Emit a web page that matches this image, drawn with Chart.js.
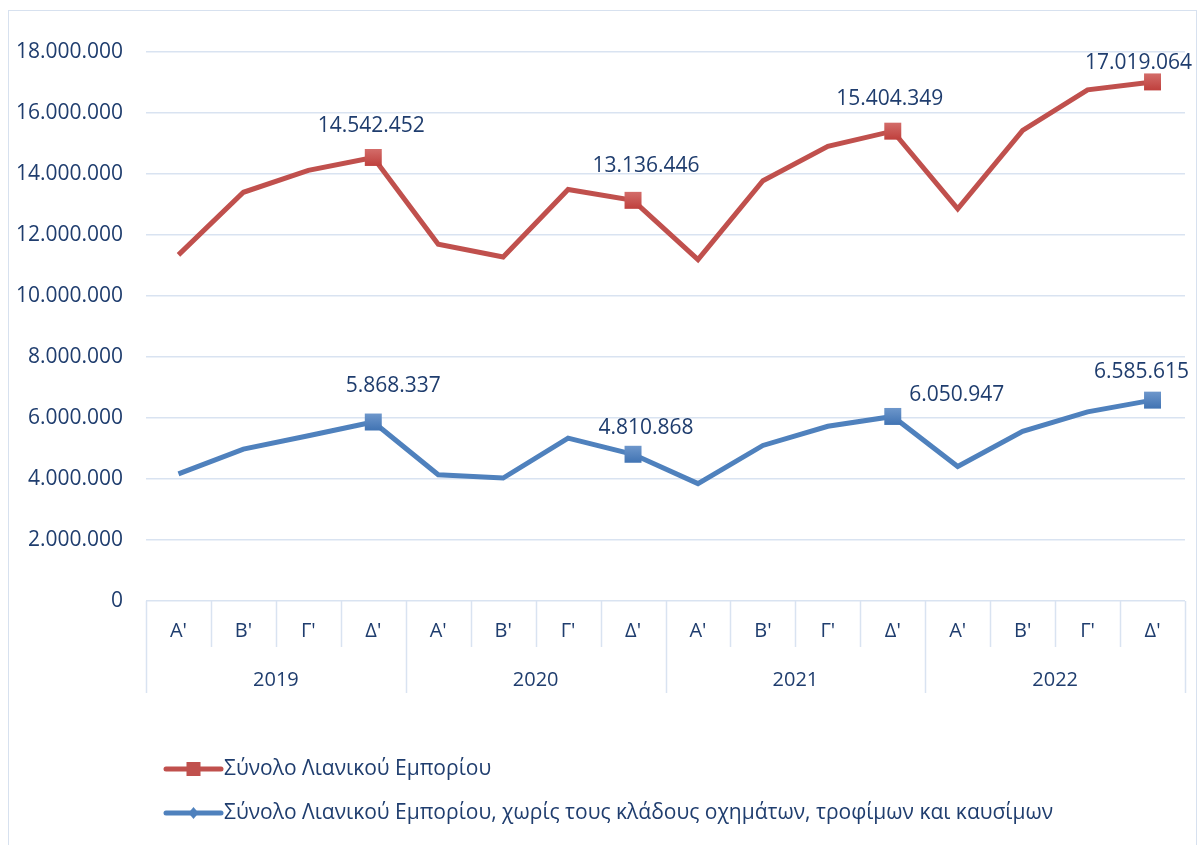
<!DOCTYPE html>
<html>
<head>
<meta charset="utf-8">
<script src="https://cdn.jsdelivr.net/npm/chart.js@4"></script>
<style>
  html, body { margin: 0; padding: 0; background: #ffffff; }
  #wrap { position: relative; width: 1200px; height: 845px; overflow: hidden; }
  #frame { position: absolute; left: 8px; top: 10px; width: 1189px; height: 850px; border: 1.5px solid #D7E1EF; box-sizing: border-box; }
  canvas { position: absolute; left: 0; top: 0; }
</style>
</head>
<body>
<div id="wrap">
  <div id="frame"></div>
  <canvas id="c" width="1200" height="845"></canvas>
</div>
<script>
const quarters = ["Α'", "Β'", "Γ'", "Δ'", "Α'", "Β'", "Γ'", "Δ'", "Α'", "Β'", "Γ'", "Δ'", "Α'", "Β'", "Γ'", "Δ'"];
const years = ["2019", "2020", "2021", "2022"];
const seriesNames = [
  "Σύνολο Λιανικού Εμπορίου",
  "Σύνολο Λιανικού Εμπορίου, χωρίς τους κλάδους οχημάτων, τροφίμων και καυσίμων"
];
const totalRetail = [11350000, 13400000, 14120000, 14542452, 11700000, 11280000, 13490000, 13136446, 11190000, 13780000, 14910000, 15404349, 12860000, 15430000, 16760000, 17019064];
const retailExcl = [4170000, 4980000, 5420000, 5868337, 4140000, 4030000, 5340000, 4810868, 3850000, 5100000, 5730000, 6050947, 4410000, 5560000, 6200000, 6585615];
const yTicks = [0, 2000000, 4000000, 6000000, 8000000, 10000000, 12000000, 14000000, 16000000, 18000000];

// style: label nudges (px) for the Δ' value labels
const labelNudge = [
  [[-2, -31], [13, -34], [-3, -32], [-14, -19]],
  [[20, -36], [13, -26], [64, -21], [-11, -28]]
];

const TEXT = '#1F3D6E';
const GRID = '#D9E3F1';
const RED = '#C0504D';
const BLUE = '#4F81BD';
const FONT = "'Open Sans', 'Noto Sans', sans-serif";

function fmt(v) {
  return String(Math.round(v)).replace(/\B(?=(\d{3})+(?!\d))/g, '.');
}
const markerRadius = ctx => ((ctx.dataIndex % 4) === 3 ? 12 : 0);

function gradFill(chart, color, light) {
  return (ctx) => {
    const el = ctx.element;
    if (!el || el.y === undefined) return color;
    const g = chart.ctx.createLinearGradient(0, el.y - 9, 0, el.y + 9);
    g.addColorStop(0, light);
    g.addColorStop(1, color);
    return g;
  };
}

const axisPlugin = {
  id: 'axisPlugin',
  afterDraw(chart) {
    const ctx = chart.ctx;
    const xs = chart.scales.x;
    const top = chart.chartArea.bottom;
    const n = quarters.length;
    const step = xs.getPixelForTick(1) - xs.getPixelForTick(0);
    ctx.save();
    ctx.strokeStyle = GRID;
    ctx.lineWidth = 1.5;
    for (let i = 0; i <= n; i++) {
      const x = Math.round(xs.getPixelForTick(Math.min(i, n - 1)) + (i === n ? step / 2 : -step / 2)) + 0.5;
      const len = (i % 4 === 0) ? 92 : 46;
      ctx.beginPath();
      ctx.moveTo(x, top);
      ctx.lineTo(x, top + len);
      ctx.stroke();
    }
    ctx.fillStyle = TEXT;
    ctx.font = "20px " + FONT;
    ctx.textAlign = 'center';
    ctx.textBaseline = 'middle';
    years.forEach((y, k) => {
      const x = (xs.getPixelForTick(k * 4 + 1) + xs.getPixelForTick(k * 4 + 2)) / 2;
      ctx.fillText(y, x, top + 79);
    });

    // value labels on the Δ' points
    ctx.font = "21px " + FONT;
    chart.data.datasets.forEach((ds, di) => {
      const meta = chart.getDatasetMeta(di);
      let q = 0;
      ds.data.forEach((v, i) => {
        if (i % 4 !== 3) return;
        const p = meta.data[i];
        const nd = labelNudge[di][q++];
        ctx.fillText(fmt(v), p.x + nd[0], p.y + nd[1]);
      });
    });

    // legend
    const lx0 = 166, lx1 = 221;
    const rows = [769, 813];
    chart.data.datasets.forEach((ds, di) => {
      const y = rows[di];
      ctx.strokeStyle = ds.borderColor;
      ctx.lineWidth = 5;
      ctx.lineCap = 'round';
      ctx.beginPath();
      ctx.moveTo(lx0, y);
      ctx.lineTo(lx1, y);
      ctx.stroke();
      ctx.fillStyle = ds.borderColor;
      const cx = (lx0 + lx1) / 2;
      if (di === 0) {
        ctx.fillRect(cx - 7, y - 7, 14, 14);
      } else {
        ctx.beginPath();
        ctx.moveTo(cx, y - 6);
        ctx.lineTo(cx + 5, y);
        ctx.lineTo(cx, y + 6);
        ctx.lineTo(cx - 5, y);
        ctx.closePath();
        ctx.fill();
      }
      ctx.fillStyle = TEXT;
      ctx.font = "21px " + FONT;
      ctx.textAlign = 'left';
      ctx.textBaseline = 'middle';
      ctx.fillText(ds.label, lx1 + 3, y);
    });
    ctx.restore();
  }
};

const chart = new Chart(document.getElementById('c'), {
  type: 'line',
  data: {
    labels: quarters,
    datasets: [
      {
        label: seriesNames[0],
        data: totalRetail,
        borderColor: RED,
        backgroundColor: RED,
        borderWidth: 5,
        pointStyle: 'rect',
        pointRadius: markerRadius,
        pointHoverRadius: markerRadius,
        pointBorderWidth: 0,
        tension: 0
      },
      {
        label: seriesNames[1],
        data: retailExcl,
        borderColor: BLUE,
        backgroundColor: BLUE,
        borderWidth: 5,
        pointStyle: 'rect',
        pointRadius: markerRadius,
        pointHoverRadius: markerRadius,
        pointBorderWidth: 0,
        tension: 0
      }
    ]
  },
  options: {
    responsive: false,
    animation: false,
    devicePixelRatio: 1,
    layout: { padding: { left: 0, top: 52, right: 15, bottom: 148 } },
    plugins: {
      legend: { display: false },
      tooltip: { enabled: false }
    },
    scales: {
      x: {
        type: 'category',
        offset: true,
        grid: { display: false, drawTicks: false },
        border: { display: false },
        ticks: {
          color: TEXT,
          font: { family: FONT, size: 20 },
          padding: 18,
          maxRotation: 0,
          autoSkip: false
        },
        afterFit(scale) { scale.height = 96; }
      },
      y: {
        min: 0,
        max: 18000000,
        afterBuildTicks(scale) { scale.ticks = yTicks.map(v => ({ value: v })); },
        grid: { color: GRID, lineWidth: 1.5, drawTicks: false },
        border: { display: false },
        ticks: {
          color: TEXT,
          font: { family: FONT, size: 21 },
          padding: 23,
          callback: v => fmt(v)
        },
        afterFit(scale) { scale.width = 146; }
      }
    }
  },
  plugins: [axisPlugin]
});
chart.data.datasets[0].backgroundColor = gradFill(chart, '#BE3E3B', '#D46E6B');
chart.data.datasets[1].backgroundColor = gradFill(chart, '#3F72B2', '#6F98CC');
chart.data.datasets[0].borderColor = RED;
chart.update('none');
</script>
</body>
</html>
